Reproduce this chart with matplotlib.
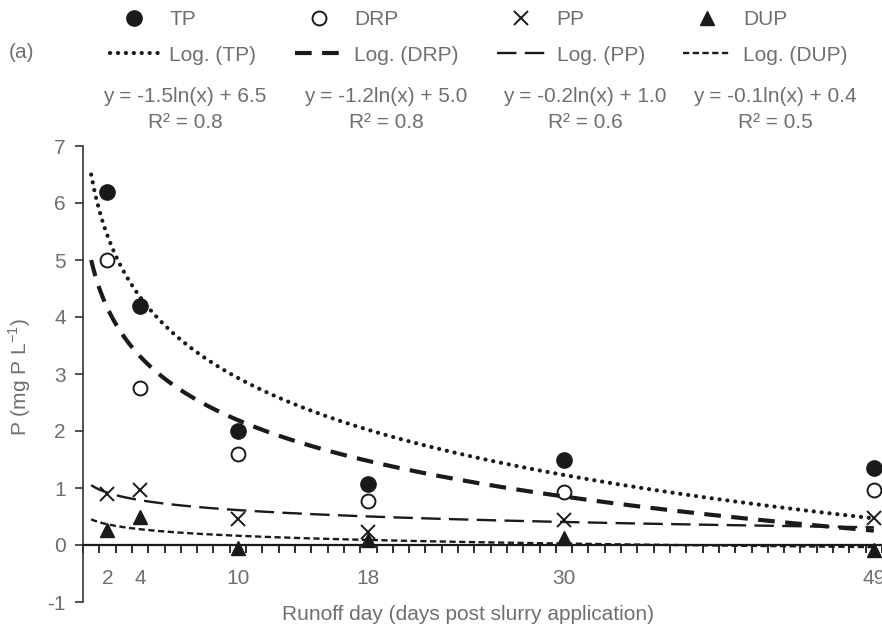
import matplotlib
matplotlib.use("Agg")
import matplotlib.pyplot as plt
import numpy as np

plt.rcParams['font.family'] = ['Liberation Sans', 'DejaVu Sans']
plt.rcParams['mathtext.fontset'] = 'custom'
plt.rcParams['mathtext.rm'] = 'Liberation Sans'
plt.rcParams['lines.scale_dashes'] = False
plt.rcParams['axes.unicode_minus'] = False

# data
days = [2, 4, 10, 18, 30, 49]
tp = [6.2, 4.2, 2.0, 1.07, 1.49, 1.35]
drp = [5.0, 2.75, 1.6, 0.78, 0.93, 0.96]
pp = [0.9, 0.97, 0.45, 0.23, 0.44, 0.47]
dup = [0.27, 0.5, -0.05, 0.09, 0.12, -0.08]

series = ['TP', 'DRP', 'PP', 'DUP']
# log trendlines y = a*ln(x) + b (curves drawn over days 1..49)
fit_a = [-1.55, -1.22, -0.19, -0.125]
fit_b = [6.5, 5.0, 1.05, 0.45]
equations = ['y = -1.5ln(x) + 6.5', 'y = -1.2ln(x) + 5.0',
             'y = -0.2ln(x) + 1.0', 'y = -0.1ln(x) + 0.4']
r2 = ['R² = 0.8', 'R² = 0.8', 'R² = 0.6', 'R² = 0.5']
xtick_labels = ['2', '4', '10', '18', '30', '49']

grey = '#6f6f6f'
ink = '#1a1a1a'
W, H = 882, 631

fig = plt.figure(figsize=(8.82, 6.31), dpi=100)
ax = fig.add_axes([83 / W, 1 - 602 / H, (882 - 83) / W, (602 - 146) / H])

marker_style = [
    dict(marker='o', mfc=ink, mec=ink, ms=11),
    dict(marker='o', mfc='none', mec=ink, ms=10, mew=1.4),
    dict(marker='x', mfc='none', mec=ink, ms=10, mew=1.4),
    dict(marker='^', mfc=ink, mec=ink, ms=10),
]
line_style = [
    dict(ls=(0, (0.1, 5.6)), lw=3.0, dash_capstyle='round'),
    dict(ls=(0, (12, 7.5)), lw=3.0),
    dict(ls=(0, (14, 6)), lw=1.7),
    dict(ls=(0, (4.5, 2.5)), lw=1.7),
]

xs = np.linspace(1, 49, 400)
handles = []
labels = []
for i, name in enumerate(series):
    vals = [tp, drp, pp, dup][i]
    m, = ax.plot(days, vals, ls='none', color=ink, zorder=3, clip_on=False,
                 **marker_style[i])
    l, = ax.plot(xs, fit_a[i] * np.log(xs) + fit_b[i], color=ink, zorder=4,
                 **line_style[i])
    handles += [m, l]
    labels += [name, 'Log. (%s)' % name]

ax.set_xlim(0.5, 49.5)
ax.set_ylim(-1, 7)

for s in ['top', 'right']:
    ax.spines[s].set_visible(False)
ax.spines['bottom'].set_position(('data', 0))
ax.spines['bottom'].set_linewidth(1.6)
ax.spines['left'].set_linewidth(1.2)
ax.spines['bottom'].set_color(ink)
ax.spines['left'].set_color('#333333')

ax.set_yticks(range(-1, 8))
ax.tick_params(axis='y', direction='out', length=5.5, width=1.2, pad=7,
               labelsize=15, labelcolor=grey, color='#333333')
ax.set_xticks(days)
ax.set_xticklabels(xtick_labels)
ax.set_xticks(np.arange(0.5, 50, 1), minor=True)
ax.tick_params(axis='x', which='major', length=0, pad=17, labelsize=15,
               labelcolor=grey)
ax.tick_params(axis='x', which='minor', direction='out', length=5.5,
               width=1.3, color=ink)

fig.text(20 / W, 1 - 377 / H, r'P (mg P L$^{\mathregular{-1}}$)', rotation=90,
         ha='center', va='center', fontsize=15, color=grey)
fig.text(468 / W, 1 - 614 / H, 'Runoff day (days post slurry application)',
         ha='center', va='center', fontsize=15, color=grey)

leg = fig.legend(handles, labels, ncol=4, loc='upper left',
                 bbox_to_anchor=(110 / W, 1 - 10 / H),
                 bbox_transform=fig.transFigure, frameon=False,
                 fontsize=15, handlelength=2.3, handletextpad=0.55,
                 columnspacing=1.85, labelspacing=0.8, borderpad=0,
                 borderaxespad=0)
for t in leg.get_texts():
    t.set_color(grey)

fig.text(22 / W, 1 - 53 / H, '(a)', ha='center', va='center', fontsize=15,
         color=grey)

eq_x = [185, 386, 585, 775]
for i in range(4):
    fig.text(eq_x[i] / W, 1 - 97 / H, equations[i], ha='center', va='center',
             fontsize=15, color=grey)
    fig.text(eq_x[i] / W, 1 - 122 / H, r2[i], ha='center', va='center',
             fontsize=15, color=grey)

fig.savefig('out.png', dpi=100)
